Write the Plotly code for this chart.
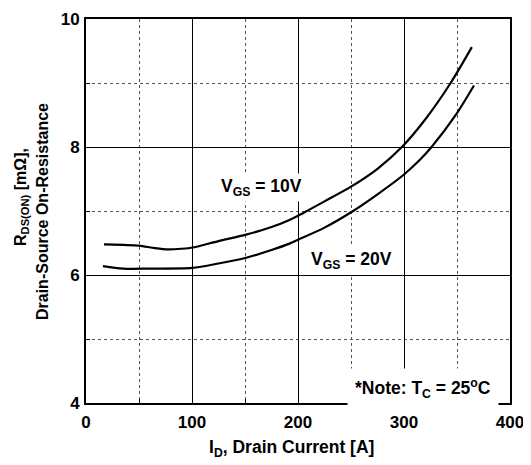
import plotly.graph_objects as go

# Drain current [A] and on-resistance [mOhm] for each gate voltage
id_vgs10 = [17, 35, 50, 65, 78, 90, 101, 125, 151, 175, 192, 205, 225, 250, 275, 298, 320, 344, 364]
rds_vgs10 = [6.48, 6.47, 6.46, 6.42, 6.40, 6.41, 6.43, 6.53, 6.63, 6.75, 6.86, 6.97, 7.15, 7.38, 7.66, 8.0, 8.43, 9.0, 9.56]

id_vgs20 = [16, 35, 60, 100, 125, 151, 175, 192, 200, 225, 252, 275, 300, 315, 326, 350, 366]
rds_vgs20 = [6.14, 6.10, 6.10, 6.11, 6.18, 6.27, 6.39, 6.49, 6.55, 6.74, 7.0, 7.26, 7.57, 7.80, 8.0, 8.53, 8.96]

x_ticks = [0, 100, 200, 300, 400]
y_ticks = [4, 6, 8, 10]

FONT = "Liberation Sans, Arial, Helvetica, sans-serif"

# page body has an 8px margin; plot area should land at x 86..510, y 19..403
OFF = 8
W, H = 531 - OFF, 465 - OFF
L, R, T, B = 86 - OFF, 21, 19 - OFF, 62
PW, PH = W - L - R, H - T - B

fig = go.Figure()
for xs, ys in [(id_vgs10, rds_vgs10), (id_vgs20, rds_vgs20)]:
    fig.add_trace(go.Scatter(x=xs, y=ys, mode="lines",
                             line=dict(color="black", width=2.2, shape="spline", smoothing=0.8),
                             showlegend=False, hoverinfo="skip"))

axis_common = dict(
    showline=True, linecolor="black", linewidth=2, mirror=True,
    showgrid=True, gridcolor="black", gridwidth=1,
    ticks="inside", ticklen=5, tickcolor="black",
    zeroline=False,
    tickfont=dict(family=FONT, size=17, color="black", weight="bold"),
)

fig.update_xaxes(range=[0, 400], tickvals=x_ticks, ticktext=[str(v) for v in x_ticks],
                 ticklabelstandoff=3,
                 minor=dict(dtick=50, showgrid=True, griddash="dot", gridcolor="#555",
                            gridwidth=1, ticks="inside", ticklen=4, tickcolor="black"),
                 **axis_common)
fig.update_yaxes(range=[4, 10], tickvals=y_ticks, ticktext=[str(v) for v in y_ticks],
                 ticklabelstandoff=1,
                 minor=dict(dtick=1, showgrid=True, griddash="dot", gridcolor="#555",
                            gridwidth=1, ticks="inside", ticklen=4, tickcolor="black"),
                 **axis_common)

afont = dict(family=FONT, size=17.5, color="black", weight="bold")
vfont = dict(family=FONT, size=16, color="black", weight="bold")

annots = [
    dict(text="V<sub>GS</sub> = 10V", x=166, y=7.375, xref="x", yref="y",
         bgcolor="white", borderpad=2),
    dict(text="V<sub>GS</sub> = 20V", x=250, y=6.234, xref="x", yref="y",
         bgcolor="white", borderpad=2),
    dict(text="*Note: T<sub>C</sub> = 25<sup>o</sup>C", x=318, y=4.234, xref="x", yref="y",
         bgcolor="white", borderpad=7),
]
for a in annots:
    fig.add_annotation(showarrow=False, font=afont, **a)

# axis titles (positions given in page pixels, converted to paper coords)
def px_to_paper(px, py):
    return (px - 86) / PW, (403 - py) / PH

tx, ty = px_to_paper(291, 448)
fig.add_annotation(text="I<sub>D</sub>, Drain Current [A]", xref="paper", yref="paper",
                   x=tx, y=ty, showarrow=False, font=afont,
                   xanchor="center", yanchor="middle")
tx, ty = px_to_paper(21, 197)
fig.add_annotation(text="R<sub>DS(ON)</sub> [m\u03a9],", xref="paper", yref="paper",
                   x=tx, y=ty, showarrow=False, font=vfont,
                   textangle=-90, xanchor="center", yanchor="middle")
tx, ty = px_to_paper(42, 212)
fig.add_annotation(text="Drain-Source On-Resistance", xref="paper", yref="paper",
                   x=tx, y=ty, showarrow=False, font=vfont,
                   textangle=-90, xanchor="center", yanchor="middle")

fig.update_layout(
    width=W, height=H,
    margin=dict(l=L, r=R, t=T, b=B, autoexpand=False),
    plot_bgcolor="white", paper_bgcolor="white",
    font=dict(family=FONT, color="black"),
)

fig.write_html("out.html")
